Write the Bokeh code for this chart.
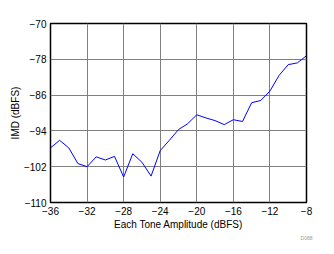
from bokeh.plotting import figure
from bokeh.models import FixedTicker, Range1d, Title
from bokeh.embed import file_html
from bokeh.resources import INLINE

# Data
amplitude = [-36, -35, -34, -33, -32, -31, -30, -29, -28, -27, -26, -25, -24, -23, -22,
             -21, -20, -19, -18, -17, -16, -15, -14, -13, -12, -11, -10, -9, -8]
imd = [-97.8, -96.1, -97.8, -101.3, -102.0, -99.8, -100.5, -99.7, -104.3, -99.1, -101.0,
       -104.1, -98.4, -96.1, -93.7, -92.4, -90.4, -91.1, -91.7, -92.6, -91.5, -91.9,
       -87.7, -87.2, -85.1, -81.6, -79.2, -78.8, -77.2]
x_ticks = [-36, -32, -28, -24, -20, -16, -12, -8]
y_ticks = [-110, -102, -94, -86, -78, -70]

FONT = "Liberation Sans"

p = figure(width=334, height=254, output_backend="svg", toolbar_location=None,
           x_range=Range1d(-36, -8), y_range=Range1d(-110, -70),
           min_border_left=50, min_border_right=28, min_border_top=23, min_border_bottom=52)
p.background_fill_color = "white"
p.border_fill_color = "white"
p.outline_line_color = "black"
p.outline_line_width = 1.5

p.line(amplitude, imd, line_color="#0000FF", line_width=1)

for ax in (p.xaxis[0], p.yaxis[0]):
    ax.axis_line_color = None
    ax.major_tick_line_color = None
    ax.minor_tick_line_color = None
    ax.major_tick_out = 0
    ax.major_tick_in = 0
    ax.minor_tick_out = 0
    ax.minor_tick_in = 0
    ax.major_label_text_font = FONT
    ax.major_label_text_font_size = "10px"
    ax.major_label_text_color = "black"
    ax.axis_label_text_font = FONT
    ax.axis_label_text_font_size = "10px"
    ax.axis_label_text_font_style = "normal"
    ax.axis_label_text_color = "black"

p.xaxis.ticker = FixedTicker(ticks=x_ticks)
p.yaxis.ticker = FixedTicker(ticks=y_ticks)
p.xaxis.axis_label = "Each Tone Amplitude (dBFS)"
p.yaxis.axis_label = "IMD (dBFS)"
p.xaxis.major_label_standoff = 4
p.yaxis.major_label_standoff = 4
p.xaxis.axis_label_standoff = 1
p.yaxis.axis_label_standoff = 0

p.xgrid.ticker = FixedTicker(ticks=x_ticks)
p.ygrid.ticker = FixedTicker(ticks=y_ticks)
p.grid.grid_line_color = "#808080"
p.grid.grid_line_width = 1

p.add_layout(Title(text="D088", align="right", text_font=FONT, text_font_size="5px",
                   text_color="#999999", text_font_style="normal", standoff=0,
                   offset=-6), "below")

open("out.html", "w").write(file_html(p, INLINE))
